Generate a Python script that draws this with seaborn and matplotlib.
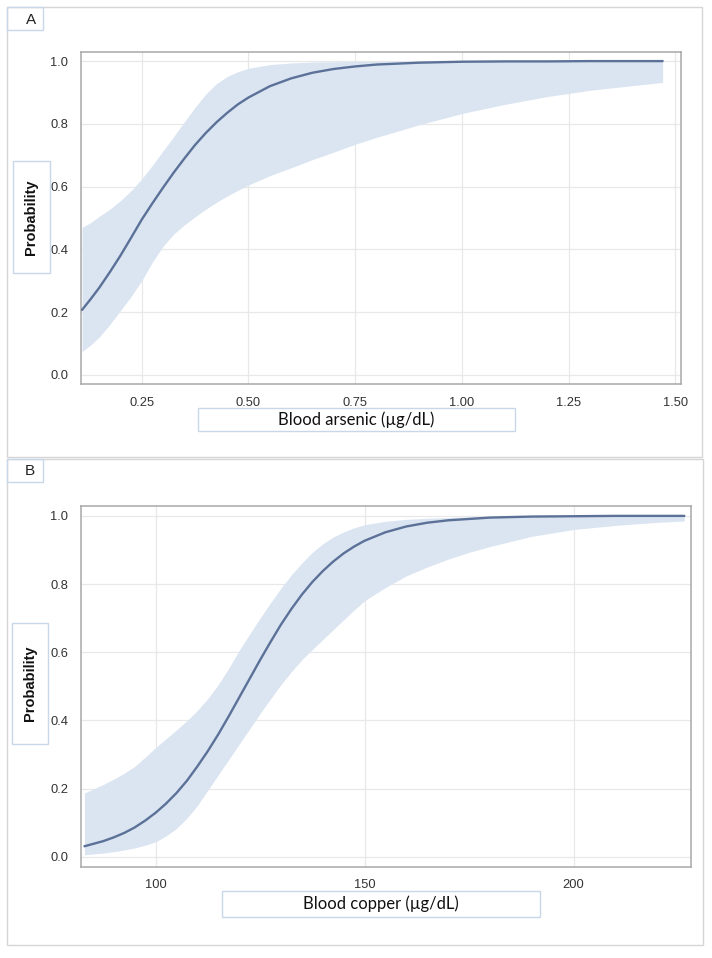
import numpy as np
import pandas as pd
import matplotlib
matplotlib.use("Agg")
import matplotlib.pyplot as plt
from matplotlib.patches import Rectangle
import seaborn as sns

# ---------------- data ----------------
# Panel A: blood arsenic
arsenic_x = [0.11, 0.13, 0.15, 0.175, 0.20, 0.225, 0.25, 0.275, 0.30, 0.325, 0.35, 0.375,
             0.40, 0.425, 0.45, 0.475, 0.50, 0.55, 0.60, 0.65, 0.70, 0.75, 0.80, 0.90,
             1.00, 1.10, 1.20, 1.30, 1.40, 1.47]
arsenic_p = [0.207, 0.241, 0.277, 0.327, 0.380, 0.437, 0.495, 0.547, 0.597, 0.645, 0.690, 0.733,
             0.771, 0.805, 0.835, 0.862, 0.884, 0.920, 0.945, 0.963, 0.975, 0.983, 0.989, 0.995,
             0.998, 0.999, 0.999, 1.000, 1.000, 1.000]
arsenic_lo = [0.074, 0.095, 0.120, 0.160, 0.205, 0.250, 0.300, 0.360, 0.410, 0.449, 0.478, 0.504,
              0.528, 0.550, 0.570, 0.588, 0.605, 0.635, 0.660, 0.686, 0.710, 0.735, 0.757, 0.797,
              0.833, 0.862, 0.887, 0.907, 0.922, 0.932]
arsenic_hi = [0.470, 0.485, 0.505, 0.528, 0.555, 0.587, 0.625, 0.668, 0.714, 0.760, 0.807, 0.853,
              0.895, 0.928, 0.951, 0.966, 0.977, 0.989, 0.994, 0.997, 0.998, 0.999, 0.999, 1.000,
              1.000, 1.000, 1.000, 1.000, 1.000, 1.000]

# Panel B: blood copper
copper_x = [83, 87.5, 90, 92.5, 95, 97.5, 100, 102.5, 105, 107.5, 110, 112.5, 115, 117.5,
            120, 122.5, 125, 127.5, 130, 132.5, 135, 137.5, 140, 142.5, 145, 147.5, 150,
            155, 160, 165, 170, 175, 180, 190, 200, 210, 220, 226.5]
copper_p = [0.031, 0.046, 0.057, 0.070, 0.086, 0.106, 0.129, 0.156, 0.187, 0.223, 0.265, 0.310,
            0.359, 0.412, 0.467, 0.522, 0.577, 0.630, 0.681, 0.727, 0.769, 0.806, 0.838, 0.866,
            0.890, 0.910, 0.927, 0.952, 0.969, 0.980, 0.987, 0.991, 0.995, 0.998, 0.999, 1.000,
            1.000, 1.000]
copper_lo = [0.006, 0.011, 0.015, 0.020, 0.026, 0.034, 0.044, 0.061, 0.083, 0.113, 0.150, 0.195,
             0.240, 0.285, 0.330, 0.375, 0.420, 0.463, 0.505, 0.543, 0.578, 0.608, 0.637, 0.666,
             0.695, 0.724, 0.751, 0.790, 0.824, 0.850, 0.873, 0.893, 0.910, 0.940, 0.960, 0.972,
             0.981, 0.985]
copper_hi = [0.187, 0.212, 0.228, 0.245, 0.265, 0.292, 0.320, 0.346, 0.372, 0.399, 0.429, 0.464,
             0.505, 0.553, 0.605, 0.653, 0.700, 0.745, 0.788, 0.827, 0.862, 0.893, 0.918, 0.938,
             0.953, 0.965, 0.974, 0.984, 0.990, 0.993, 0.995, 0.997, 0.998, 0.999, 1.000, 1.000,
             1.000, 1.000]

y_ticks = [0.0, 0.2, 0.4, 0.6, 0.8, 1.0]
arsenic_ticks = [0.25, 0.50, 0.75, 1.00, 1.25, 1.50]
copper_ticks = [100, 150, 200]

LINE = "#5b7197"
BAND = "#dbe5f2"
FRAME = "#a8a8a8"
GRID = "#e8e8e8"
BOXC = "#c9d7ea"
PANELC = "#d6d6d6"

sns.set_theme(style="white")
plt.rcParams["font.family"] = ["Liberation Sans", "DejaVu Sans"]

W, H = 712, 958
fig = plt.figure(figsize=(W / 100, H / 100), dpi=100)


def fig_rect(x0, y0, x1, y1):
    # pixel box (top-left origin) -> figure fraction
    return [x0 / W, 1 - y1 / H, (x1 - x0) / W, (y1 - y0) / H]


def add_box(x0, y0, x1, y1, color):
    l, b, w, h = fig_rect(x0, y0, x1, y1)
    fig.add_artist(Rectangle((l, b), w, h, transform=fig.transFigure,
                             fill=False, edgecolor=color, lw=1.0))


def draw_panel(ax, x, p, lo, hi, xticks, xlim, xfmt):
    ax.fill_between(x, lo, hi, color=BAND, lw=0, zorder=2)
    sns.lineplot(x=x, y=p, ax=ax, color=LINE, lw=1.7, zorder=3)
    ax.set_xlim(*xlim)
    ax.set_ylim(-0.029, 1.029)
    ax.set_xticks(xticks)
    ax.set_xticklabels([xfmt.format(t) for t in xticks])
    ax.set_yticks(y_ticks)
    ax.set_yticklabels([f"{t:.1f}" for t in y_ticks])
    ax.grid(True, color=GRID, lw=0.9, zorder=0)
    ax.set_axisbelow(True)
    for s in ax.spines.values():
        s.set_color(FRAME)
        s.set_linewidth(1.1)
    ax.tick_params(direction="out", length=5, width=0.9, color=FRAME,
                   labelcolor="#333333", labelsize=9.3, pad=4)
    ax.set_xlabel("")
    ax.set_ylabel("")


# panel frames
add_box(7, 7, 702, 457, PANELC)
add_box(7, 459, 703, 945, PANELC)
add_box(7, 7, 43, 30, BOXC)
add_box(7, 459, 43, 482, BOXC)
fig.text(31 / W, 1 - 20 / H, "A", ha="center", va="center", fontsize=11, color="#222222")
fig.text(30 / W, 1 - 471 / H, "B", ha="center", va="center", fontsize=11, color="#222222")

axA = fig.add_axes(fig_rect(80.7, 52, 681, 384))
draw_panel(axA, arsenic_x, arsenic_p, arsenic_lo, arsenic_hi,
           arsenic_ticks, (0.107, 1.513), "{:.2f}")

axB = fig.add_axes(fig_rect(80.7, 506, 691, 866.7))
draw_panel(axB, copper_x, copper_p, copper_lo, copper_hi,
           copper_ticks, (82.1, 228.1), "{:.0f}")

# y label boxes
add_box(13, 161, 50, 273, BOXC)
fig.text(31.5 / W, 1 - 217 / H, "Probability", rotation=90, ha="center", va="center",
         fontsize=10.5, fontweight="bold", color="#111111")
add_box(12, 623, 48, 744, BOXC)
fig.text(30 / W, 1 - 683 / H, "Probability", rotation=90, ha="center", va="center",
         fontsize=10.5, fontweight="bold", color="#111111")

# x label boxes
add_box(198, 408, 515, 431, BOXC)
fig.text(356 / W, 1 - 420 / H, "Blood arsenic (µg/dL)", ha="center", va="center",
         fontsize=12, color="#111111", family=["Lato", "DejaVu Sans"])
add_box(222, 891, 540, 917, BOXC)
fig.text(381 / W, 1 - 904 / H, "Blood copper (µg/dL)", ha="center", va="center",
         fontsize=12, color="#111111", family=["Lato", "DejaVu Sans"])

fig.savefig("out.png", dpi=100, facecolor="white")
